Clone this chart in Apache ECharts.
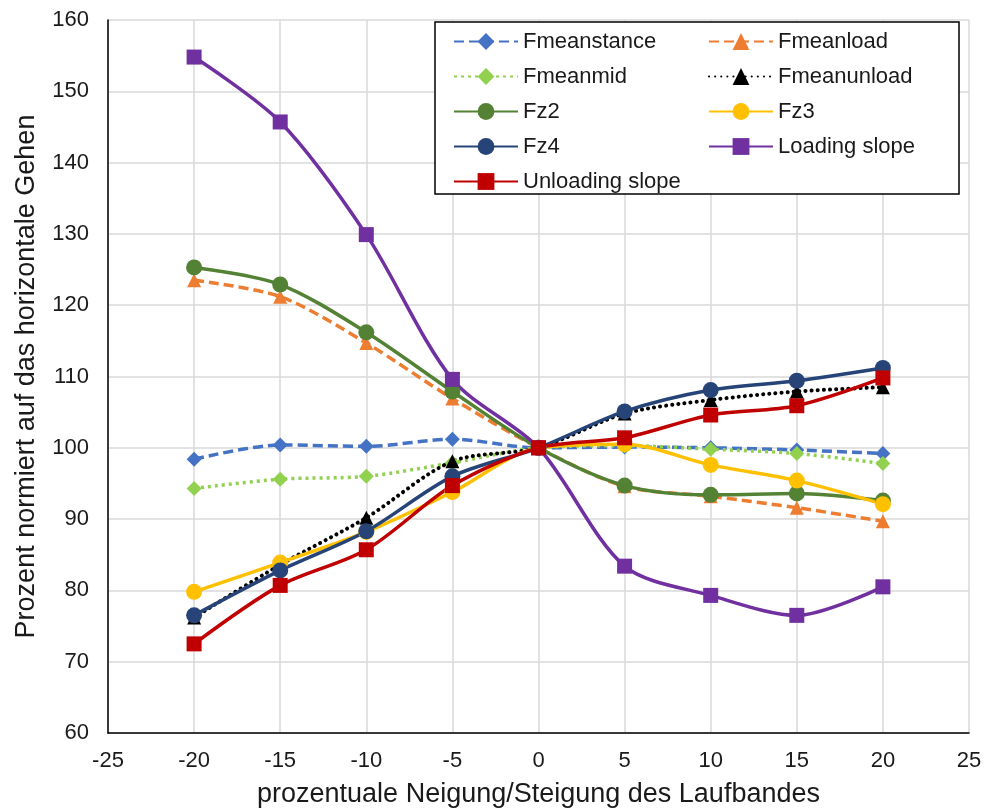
<!DOCTYPE html>
<html>
<head>
<meta charset="utf-8">
<script src="https://cdn.jsdelivr.net/npm/echarts@6/dist/echarts.min.js"></script>
<style>html,body{margin:0;padding:0;background:#fff;}#c{width:986px;height:808px;}</style>
</head>
<body>
<div id="c"></div>
<script>
var xValues = [-20, -15, -10, -5, 0, 5, 10, 15, 20];
var xTicks = [-25, -20, -15, -10, -5, 0, 5, 10, 15, 20, 25];
var yTicks = [60, 70, 80, 90, 100, 110, 120, 130, 140, 150, 160];

var fmeanstance   = [98.4, 100.4, 100.2, 101.2, 100, 100.1, 100.0, 99.7, 99.2];
var fmeanload     = [123.5, 121.2, 114.7, 106.9, 100, 94.6, 93.2, 91.6, 89.7];
var fmeanmid      = [94.3, 95.6, 96.0, 97.9, 100, 100.3, 99.8, 99.2, 97.8];
var fmeanunload   = [76.2, 83.6, 90.2, 98.1, 100, 104.8, 106.7, 107.9, 108.5];
var fz2           = [125.3, 122.9, 116.2, 107.9, 100, 94.7, 93.4, 93.6, 92.6];
var fz3           = [79.8, 83.9, 88.2, 93.8, 100, 100.5, 97.6, 95.4, 92.1];
var fz4           = [76.5, 82.8, 88.3, 96.0, 100, 105.1, 108.1, 109.4, 111.2];
var loadingSlope  = [154.8, 145.7, 129.9, 109.6, 100, 83.4, 79.3, 76.5, 80.5];
var unloadingSlope= [72.5, 80.7, 85.7, 94.7, 100, 101.4, 104.6, 105.9, 109.8];

function pairs(vals) { return xValues.map(function (x, i) { return [x, vals[i]]; }); }

var FONT = 'Liberation Sans, Arial, sans-serif';
var TXT = '#1a1a1a';

function mk(name, vals, color, lineType, symbol, size, extra) {
  var s = {
    name: name, type: 'line', data: pairs(vals), smooth: 0.3,
    symbol: symbol, symbolSize: size,
    lineStyle: { color: color, width: 3.5, type: lineType },
    itemStyle: { color: color },
    emphasis: { disabled: true }
  };
  if (extra) { for (var k in extra) s.lineStyle[k] = extra[k]; }
  return s;
}

var series = [
  mk('Fmeanstance', fmeanstance, '#4472C4', [10, 5], 'diamond', 15),
  mk('Fmeanload', fmeanload, '#ED7D31', [10, 5], 'triangle', 14),
  mk('Fmeanmid', fmeanmid, '#92D050', [3, 4], 'diamond', 15),
  mk('Fmeanunload', fmeanunload, '#000000', [0.1, 6], 'triangle', 14, { cap: 'round', width: 4 }),
  mk('Fz2', fz2, '#548235', 'solid', 'circle', 16),
  mk('Fz3', fz3, '#FFC000', 'solid', 'circle', 16),
  mk('Fz4', fz4, '#264478', 'solid', 'circle', 16),
  mk('Loading slope', loadingSlope, '#7030A0', 'solid', 'rect', 15),
  mk('Unloading slope', unloadingSlope, '#C00000', 'solid', 'rect', 15)
];

var chart = echarts.init(document.getElementById('c'), null, { renderer: 'canvas' });
chart.setOption({
  animation: false,
  backgroundColor: '#fff',
  textStyle: { fontFamily: FONT },
  grid: { left: 108, right: 17, top: 20, bottom: 75, containLabel: false, outerBoundsMode: 'none' },
  legend: {
    left: 435, top: 22, width: 500,
    orient: 'horizontal',
    padding: [7, 6, 0, 18],
    itemGap: 10,
    itemWidth: 64, itemHeight: 21,
    borderColor: '#000', borderWidth: 1.5,
    backgroundColor: '#fff',
    textStyle: { fontSize: 22, color: TXT, fontFamily: FONT, width: 175, lineHeight: 25 },
    data: series.map(function (s) { return s.name; })
  },
  xAxis: {
    type: 'value', min: xTicks[0], max: xTicks[xTicks.length - 1], interval: 5,
    name: 'prozentuale Neigung/Steigung des Laufbandes',
    nameLocation: 'middle', nameGap: 48,
    nameTextStyle: { fontSize: 27, color: TXT, fontFamily: FONT },
    axisLine: { show: true, onZero: false, lineStyle: { color: '#000', width: 1.5 } },
    axisTick: { show: false },
    axisLabel: { fontSize: 22, color: TXT, margin: 17, fontFamily: FONT },
    splitLine: { show: true, lineStyle: { color: '#d9d9d9', width: 1.5 } }
  },
  yAxis: {
    type: 'value', min: yTicks[0], max: yTicks[yTicks.length - 1], interval: 10,
    name: 'Prozent normiert auf das horizontale Gehen',
    nameLocation: 'middle', nameGap: 68,
    nameTextStyle: { fontSize: 27, color: TXT, fontFamily: FONT },
    axisLine: { show: true, onZero: false, lineStyle: { color: '#000', width: 1.5 } },
    axisTick: { show: false },
    axisLabel: { fontSize: 22, color: TXT, margin: 19, fontFamily: FONT },
    splitLine: { show: true, lineStyle: { color: '#d9d9d9', width: 1.5 } }
  },
  series: series
});
</script>
</body>
</html>
